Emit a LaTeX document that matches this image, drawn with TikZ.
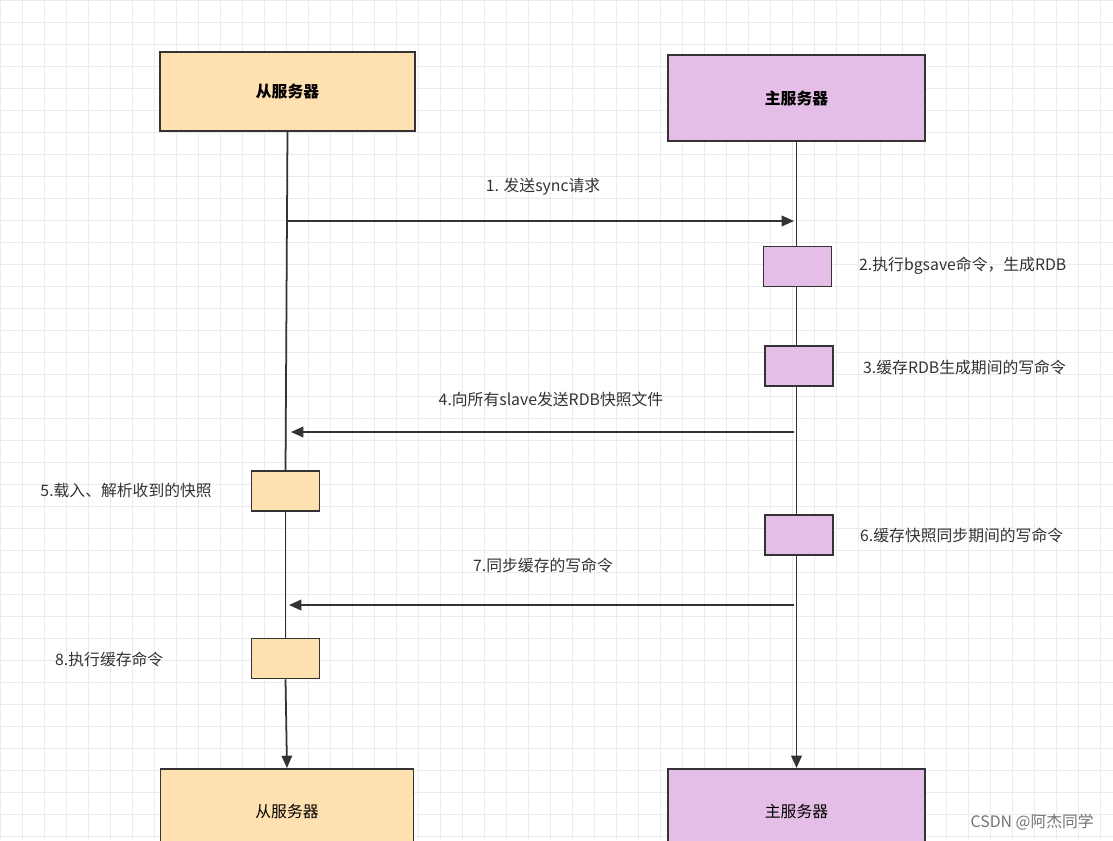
\documentclass[tikz,border=0pt]{standalone}
\usepackage{fontspec}
\setmainfont{Noto Sans CJK SC}
\usetikzlibrary{arrows.meta}
\definecolor{slavefill}{HTML}{FFE0B0}
\definecolor{masterfill}{HTML}{E4BEE6}
\definecolor{linec}{HTML}{333333}
\definecolor{textc}{HTML}{333333}
\begin{document}
\begin{tikzpicture}[x=0.02cm,y=-0.02cm,
  box/.style={draw=linec,line width=1pt,inner sep=0pt},
  act/.style={box,minimum width=1.36cm,minimum height=0.8cm},
  lbl/.style={font=\small,text=textc},
  msg/.style={draw=linec,line width=1pt,-{Triangle[length=7pt,width=6pt]}}]
\useasboundingbox (0,0) rectangle (1113,840);
\fill[white] (0,0) rectangle (1113,840);
\foreach \i in {0,22,...,1113} \draw[black!8,line width=0.4pt] (\i,0) -- (\i,840);
\foreach \j in {0,22,...,840} \draw[black!8,line width=0.4pt] (0,\j) -- (1113,\j);
% heads
\node[box,fill=slavefill,minimum width=5.1cm,minimum height=1.58cm,font=\bfseries\small] (s1) at (287.5,91.5) {从服务器};
\node[box,fill=masterfill,minimum width=5.14cm,minimum height=1.72cm,font=\bfseries\small] (m1) at (796.5,98) {主服务器};
\node[box,fill=slavefill,minimum width=5.06cm,minimum height=1.7cm,anchor=north,font=\small] (s2) at (287,768) {从服务器};
\node[box,fill=masterfill,minimum width=5.14cm,minimum height=1.7cm,anchor=north,font=\small] (m2) at (796.5,768) {主服务器};
% activations
\node[act,fill=masterfill] (a2) at (797.5,266.5) {};
\node[act,fill=masterfill] (a3) at (799,366) {};
\node[act,fill=slavefill] (a5) at (285.5,491) {};
\node[act,fill=masterfill] (a6) at (799,535) {};
\node[act,fill=slavefill] (a8) at (285.5,658.5) {};
% lifelines
\coordinate (p1) at (287,221); \coordinate (q1) at (794,221);
\coordinate (p4) at (794,432); \coordinate (q4) at (291,432);
\coordinate (p7) at (794,605); \coordinate (q7) at (289,605);
\draw[linec,line width=1pt] (s1.south) -- (a5.north);
\draw[linec,line width=1pt] (a5.south) -- (a8.north);
\draw[msg] (a8.south) -- (s2.north);
\draw[linec,line width=1pt] (m1.south) -- (a2.north -| m1.south);
\draw[linec,line width=1pt] (a2.south -| m1.south) -- (a3.north -| m1.south);
\draw[linec,line width=1pt] (a3.south -| m1.south) -- (a6.north -| m1.south);
\draw[msg] (a6.south -| m1.south) -- (m2.north);
% messages
\draw[msg] (p1) -- (q1);
\draw[msg] (p4) -- (q4);
\draw[msg] (p7) -- (q7);
% labels
\node[lbl] (t1) at (543,187) {1. 发送sync请求};
\node[lbl,anchor=west] (t2) at (853,266) {2.执行bgsave命令，生成RDB};
\node[lbl,anchor=west] (t3) at (857,367) {3.缓存RDB生成期间的写命令};
\node[lbl] (t4) at (551,399) {4.向所有slave发送RDB快照文件};
\node[lbl,anchor=east] (t5) at (218,490) {5.载入、解析收到的快照};
\node[lbl,anchor=west] (t6) at (854,535) {6.缓存快照同步期间的写命令};
\node[lbl] (t7) at (543,565) {7.同步缓存的写命令};
\node[lbl,anchor=west] (t8) at (49,659) {8.执行缓存命令};
\node[font=\small,text=black!55,anchor=east] (wm) at (1100,822) {CSDN @阿杰同学};
\end{tikzpicture}
\end{document}
